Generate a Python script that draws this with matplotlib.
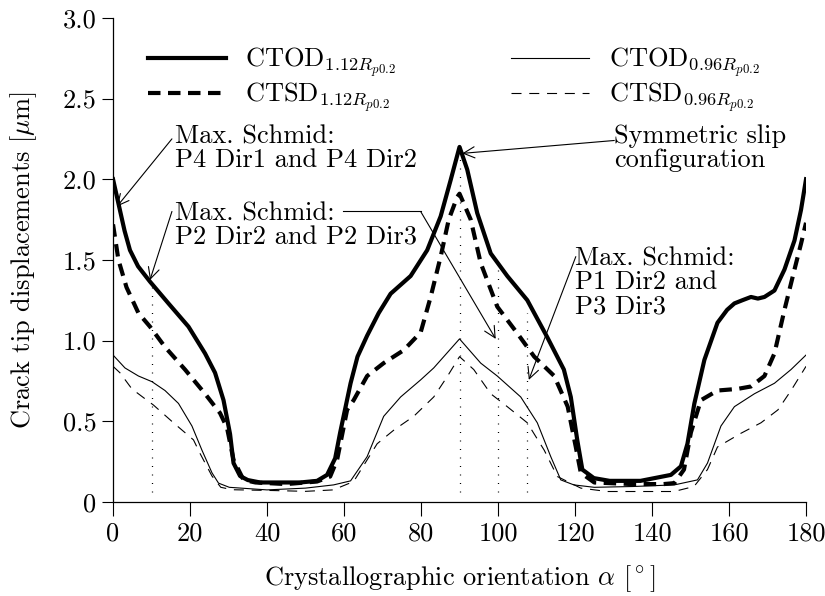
import matplotlib
matplotlib.use("Agg")
import matplotlib.pyplot as plt

plt.rcParams['font.family'] = 'serif'
plt.rcParams['font.serif'] = ['cmr10']
plt.rcParams['mathtext.fontset'] = 'cm'
plt.rcParams['axes.unicode_minus'] = False
plt.rcParams['axes.formatter.use_mathtext'] = True

FS = 19

# ---- data ----
x_ctod_112 = [0, 1.4, 3.0, 4.4, 6.5, 9.6, 14.4, 19.6, 23.9, 26.5, 28.7, 30.4, 31.3, 33.0, 35.0, 38.2, 45, 48.6, 53, 55.6,
              57.7, 59.0, 61.7, 63.5, 66, 69, 72.1, 77.3, 81.6, 85.1, 87.7, 90, 92, 94.6, 98.1, 102.4, 107.6,
              112.8, 117.1, 118.9, 120.6, 121.9, 124.9, 129, 137, 144.9, 147.5, 149.2, 151, 153.6, 157, 159.5,
              161.4, 163.5, 165.7, 167.5, 169.2, 171.8, 174.4, 177, 178.7, 180]
y_ctod_112 = [2.0, 1.85, 1.68, 1.56, 1.46, 1.365, 1.23, 1.086, 0.92, 0.80, 0.63, 0.42, 0.24, 0.16, 0.135, 0.12, 0.12, 0.12, 0.13, 0.167,
              0.27, 0.43, 0.735, 0.90, 1.03, 1.17, 1.29, 1.40, 1.56, 1.77, 1.995, 2.20, 2.06, 1.79, 1.54, 1.40, 1.25,
              1.02, 0.82, 0.65, 0.38, 0.20, 0.147, 0.13, 0.13, 0.167, 0.22, 0.36, 0.61, 0.88, 1.11, 1.19,
              1.23, 1.25, 1.27, 1.26, 1.27, 1.31, 1.44, 1.62, 1.81, 2.0]

x_ctsd_112 = [0, 1.4, 3.5, 6.6, 9.6, 13.5, 18.7, 23.9, 27.8, 29.6, 31.3, 33.9, 37, 45, 53, 56.4, 58.2, 60.8,
              62.5, 66, 70.3, 75.5, 79.9, 82.5, 85.1, 87.2, 89.4, 90, 92.9, 95.5, 99.8, 105, 109.4, 114.6, 118.1,
              120.2, 121.5, 125, 135, 143, 145.8, 148.3, 150.1, 152.7, 157, 162.2, 165.7, 169.2, 171.8, 174.4,
              177, 178.7, 180]
y_ctsd_112 = [1.72, 1.50, 1.33, 1.17, 1.086, 0.96, 0.82, 0.67, 0.55, 0.46, 0.26, 0.136, 0.12, 0.11, 0.126, 0.157, 0.26, 0.57,
              0.63, 0.78, 0.86, 0.94, 1.05, 1.27, 1.52, 1.75, 1.89, 1.91, 1.75, 1.48, 1.21, 1.045, 0.90, 0.78, 0.59,
              0.34, 0.18, 0.12, 0.11, 0.11, 0.116, 0.20, 0.43, 0.63, 0.69, 0.70, 0.715, 0.78, 0.92, 1.19,
              1.44, 1.60, 1.73]

x_ctod_096 = [0, 3.1, 6.6, 10.1, 13.5, 17, 20.5, 23.1, 25.7, 27.4, 30.2, 40, 50, 57.3, 61.7, 66, 70.3, 74.7,
              79.9, 83.3, 90, 95.5, 99.8, 105.9, 110.2, 113.7, 116.3, 119.7, 125, 135, 145.8, 151.8, 154.4,
              157.9, 161.4, 166.6, 171.8, 176.1, 180]
y_ctod_096 = [0.91, 0.83, 0.78, 0.745, 0.69, 0.61, 0.47, 0.32, 0.18, 0.116, 0.09, 0.074, 0.085, 0.105, 0.13, 0.28, 0.53, 0.65,
              0.756, 0.83, 1.01, 0.86, 0.78, 0.65, 0.49, 0.28, 0.136, 0.105, 0.09, 0.095, 0.105, 0.136, 0.24,
              0.47, 0.59, 0.67, 0.735, 0.82, 0.91]

x_ctsd_096 = [0, 1.8, 4.9, 8.8, 10.5, 15.7, 20.9, 22.6, 25.7, 28, 31, 41.7, 50, 57.2, 62.5, 66, 68.6, 73, 78.1,
              83.3, 86.8, 90, 93.7, 98.1, 102.4, 107.6, 112, 115.4, 121.5, 128.4, 145.7, 150.9, 154.4, 157,
              163.1, 168.3, 172.7, 176.1, 180]
y_ctsd_096 = [0.84, 0.80, 0.70, 0.63, 0.60, 0.49, 0.384, 0.30, 0.16, 0.09, 0.075, 0.07, 0.065, 0.074, 0.126, 0.26, 0.36, 0.446, 0.53,
              0.65, 0.776, 0.90, 0.82, 0.67, 0.59, 0.49, 0.32, 0.157, 0.085, 0.064, 0.064, 0.095, 0.20, 0.34,
              0.425, 0.49, 0.57, 0.69, 0.84]

labels = [r"CTOD$_{1.12R_{p0.2}}$", r"CTSD$_{1.12R_{p0.2}}$",
          r"CTOD$_{0.96R_{p0.2}}$", r"CTSD$_{0.96R_{p0.2}}$"]

dotted_x = [10, 90, 100, 107.5]
dotted_top = [1.365, 2.2, 1.44, 1.17]

xticks = [0, 20, 40, 60, 80, 100, 120, 140, 160, 180]
yticks = [0, 0.5, 1.0, 1.5, 2.0, 2.5, 3.0]
ytick_labels = ["0", "0.5", "1.0", "1.5", "2.0", "2.5", "3.0"]

# ---- figure ----
fig = plt.figure(figsize=(8.25, 5.96), dpi=100)
ax = fig.add_axes([0.137, 0.158, 0.840, 0.812])

for xv, yt in zip(dotted_x, dotted_top):
    ax.plot([xv, xv], [0.06, yt], color='k', lw=0.9, linestyle=(0, (0.8, 6)))

ax.plot(x_ctod_112, y_ctod_112, color='k', lw=3.0, solid_joinstyle='round', label=labels[0])
ax.plot(x_ctsd_112, y_ctsd_112, color='k', lw=3.0, linestyle=(0, (3.0, 1.8)), dash_joinstyle='round', label=labels[1])
ax.plot(x_ctod_096, y_ctod_096, color='k', lw=0.8, solid_joinstyle='round', label=labels[2])
ax.plot(x_ctsd_096, y_ctsd_096, color='k', lw=0.8, linestyle=(0, (9, 7)), label=labels[3])

ax.set_xlim(0, 180)
ax.set_ylim(0, 3.0)
ax.set_xticks(xticks)
ax.set_xticklabels([str(v) for v in xticks])
ax.set_yticks(yticks)
ax.set_yticklabels(ytick_labels)
ax.tick_params(axis='both', direction='out', length=8, width=0.8, labelsize=FS, pad=4)
ax.tick_params(axis='x', length=10)
for s in ['top', 'right']:
    ax.spines[s].set_visible(False)
for s in ['left', 'bottom']:
    ax.spines[s].set_linewidth(0.9)

ax.set_xlabel(r"Crystallographic orientation $\alpha$ [$^\circ$]", fontsize=FS, labelpad=13)
ax.set_ylabel(r"Crack tip displacements [$\mu$m]", fontsize=FS, labelpad=17)

leg = ax.legend(loc='upper left', bbox_to_anchor=(0.035, 0.965), ncol=2, frameon=False,
                fontsize=FS, handlelength=2.95, handletextpad=0.75, columnspacing=4.35,
                labelspacing=0.05, borderaxespad=0)

arrow = dict(arrowstyle='->', lw=0.8, color='k', shrinkA=0, shrinkB=0, mutation_scale=20)

ax.text(16.1, 2.34, "Max. Schmid:\nP4 Dir1 and P4 Dir2", fontsize=FS, ha='left', va='top', linespacing=1.0)
ax.annotate("", xy=(1.0, 1.83), xytext=(15.3, 2.25), arrowprops=arrow)

ax.text(16.1, 1.86, "Max. Schmid:\nP2 Dir2 and P2 Dir3", fontsize=FS, ha='left', va='top', linespacing=1.0)
ax.annotate("", xy=(9.6, 1.375), xytext=(15.3, 1.80), arrowprops=arrow)
ax.plot([59.8, 79.9], [1.80, 1.80], color='k', lw=0.8)
ax.annotate("", xy=(99.4, 1.01), xytext=(79.9, 1.80), arrowprops=arrow)

ax.text(130.1, 2.34, "Symmetric slip\nconfiguration", fontsize=FS, ha='left', va='top', linespacing=1.0)
ax.annotate("", xy=(90.7, 2.16), xytext=(130.2, 2.24), arrowprops=arrow)

ax.text(119.9, 1.58, "Max. Schmid:\nP1 Dir2 and\nP3 Dir3", fontsize=FS, ha='left', va='top', linespacing=1.0)
ax.annotate("", xy=(108.0, 0.756), xytext=(120.2, 1.52), arrowprops=arrow)

fig.savefig("out.png", dpi=100)
